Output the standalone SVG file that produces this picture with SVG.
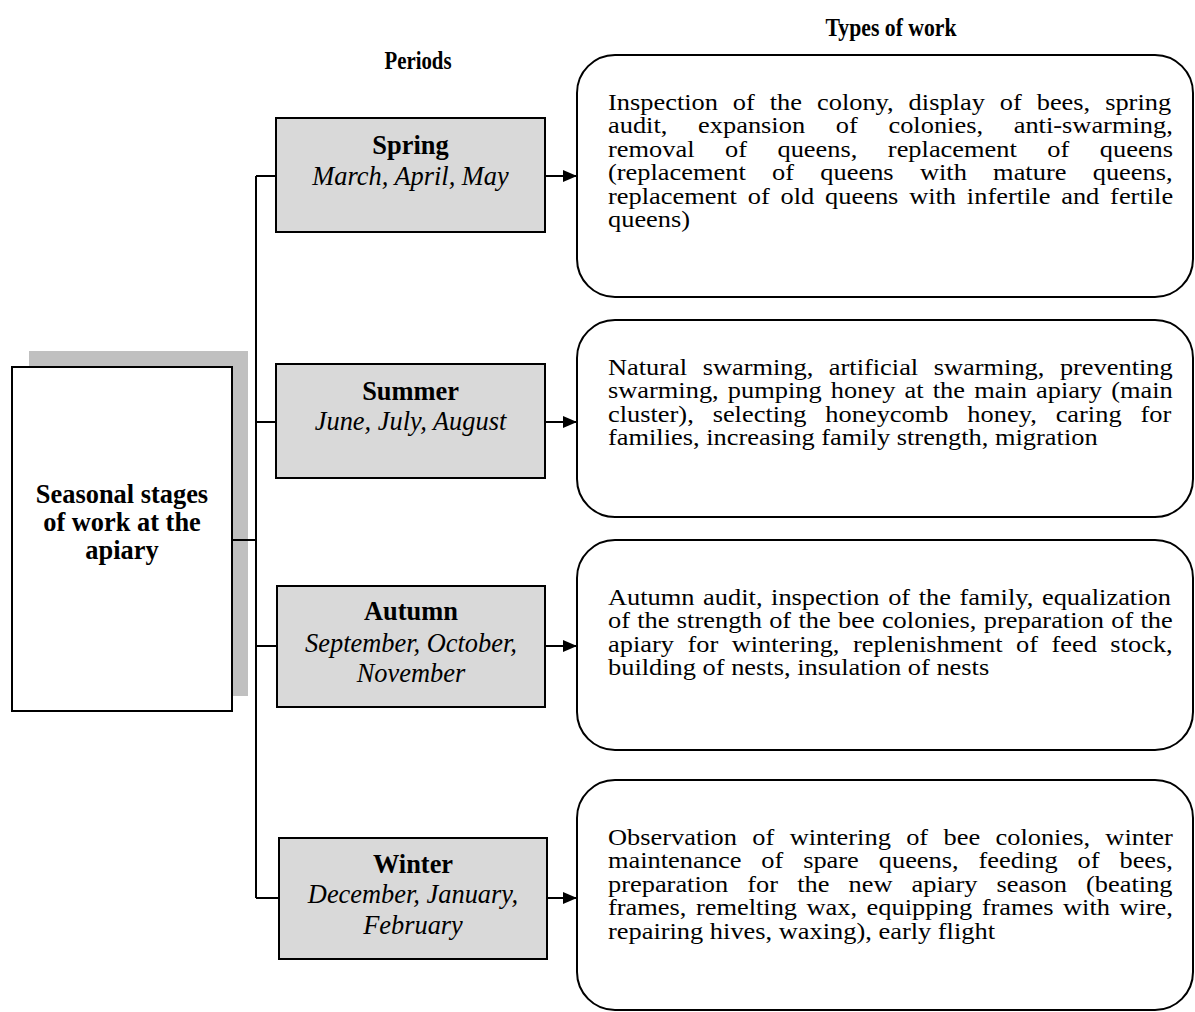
<svg xmlns="http://www.w3.org/2000/svg" width="1195" height="1012" viewBox="0 0 1195 1012">
<style>
text{font-family:"Liberation Serif","Times New Roman",serif;fill:#000}
.hdr{font-size:26px;font-weight:bold;text-anchor:middle}
.ttl{font-size:26.4px;font-weight:bold;text-anchor:middle}
.per{font-size:26.4px;font-style:italic;text-anchor:middle}
.body{font-size:23px}
.pbox{fill:#d9d9d9;stroke:#000;stroke-width:2}
.wbox{fill:#fff;stroke:#000;stroke-width:2}
.ln{fill:none;stroke:#000;stroke-width:2}
</style>
<defs>
<marker id="ah" viewBox="0 0 14 12" refX="14" refY="6" markerWidth="14" markerHeight="12" markerUnits="userSpaceOnUse" orient="auto">
<path d="M0,0 L14,6 L0,12 Z" fill="#000"/>
</marker>
</defs>

<text class="hdr" x="891" y="36" textLength="131" lengthAdjust="spacingAndGlyphs">Types of work</text>
<text class="hdr" x="418" y="69" textLength="67" lengthAdjust="spacingAndGlyphs">Periods</text>

<g id="main">
<rect x="29" y="351" width="219" height="345" fill="#c0c0c0"/>
<rect class="wbox" x="12" y="367" width="220" height="344"/>
<text class="ttl" x="122" y="503">Seasonal stages</text>
<text class="ttl" x="122" y="531">of work at the</text>
<text class="ttl" x="122" y="559">apiary</text>
</g>

<g id="connectors">
<path class="ln" d="M232,540 H256 M256,176 V898 M256,176 H276 M256,422 H276 M256,646 H277 M256,898 H279"/>
<path class="ln" d="M545,176 H577" marker-end="url(#ah)"/>
<path class="ln" d="M545,422 H577" marker-end="url(#ah)"/>
<path class="ln" d="M545,646 H577" marker-end="url(#ah)"/>
<path class="ln" d="M547,898 H577" marker-end="url(#ah)"/>
</g>

<g id="spring">
<rect class="pbox" x="276" y="118" width="269" height="114"/>
<text class="ttl" x="410.5" y="154">Spring</text>
<text class="per" x="410.5" y="185">March, April, May</text>
</g>
<g id="summer">
<rect class="pbox" x="276" y="364" width="269" height="114"/>
<text class="ttl" x="410.5" y="400">Summer</text>
<text class="per" x="410.5" y="430">June, July, August</text>
</g>
<g id="autumn">
<rect class="pbox" x="277" y="586" width="268" height="121"/>
<text class="ttl" x="411" y="620">Autumn</text>
<text class="per" x="411" y="652">September, October,</text>
<text class="per" x="411" y="682">November</text>
</g>
<g id="winter">
<rect class="pbox" x="279" y="838" width="268" height="121"/>
<text class="ttl" x="413" y="873">Winter</text>
<text class="per" x="413" y="903">December, January,</text>
<text class="per" x="413" y="934">February</text>
</g>

<g id="work-spring">
<rect class="wbox" x="577" y="55" width="616" height="242" rx="38" ry="38"/>
<g transform="translate(608,0) scale(1.148,1)">
<text class="body" x="0" y="110" style="word-spacing:7.26px">Inspection of the colony, display of bees, spring</text>
<text class="body" x="0" y="133.4" style="word-spacing:20.99px">audit, expansion of colonies, anti-swarming,</text>
<text class="body" x="0" y="156.8" style="word-spacing:20.82px">removal of queens, replacement of queens</text>
<text class="body" x="0" y="180.2" style="word-spacing:17.16px">(replacement of queens with mature queens,</text>
<text class="body" x="0" y="203.6" style="word-spacing:3.66px">replacement of old queens with infertile and fertile</text>
<text class="body" x="0" y="227">queens)</text>
</g>
</g>

<g id="work-summer">
<rect class="wbox" x="577" y="320" width="616" height="197" rx="38" ry="38"/>
<g transform="translate(608,0) scale(1.148,1)">
<text class="body" x="0" y="375" style="word-spacing:7.75px">Natural swarming, artificial swarming, preventing</text>
<text class="body" x="0" y="398.4" style="word-spacing:2.24px">swarming, pumping honey at the main apiary (main</text>
<text class="body" x="0" y="421.8" style="word-spacing:10.71px">cluster), selecting honeycomb honey, caring for</text>
<text class="body" x="0" y="445.2">families, increasing family strength, migration</text>
</g>
</g>

<g id="work-autumn">
<rect class="wbox" x="577" y="540" width="616" height="210" rx="38" ry="38"/>
<g transform="translate(608,0) scale(1.148,1)">
<text class="body" x="0" y="605" style="word-spacing:1.74px">Autumn audit, inspection of the family, equalization</text>
<text class="body" x="0" y="628.4" style="word-spacing:0.61px">of the strength of the bee colonies, preparation of the</text>
<text class="body" x="0" y="651.8" style="word-spacing:6.01px">apiary for wintering, replenishment of feed stock,</text>
<text class="body" x="0" y="675.2">building of nests, insulation of nests</text>
</g>
</g>

<g id="work-winter">
<rect class="wbox" x="577" y="780" width="616" height="230" rx="38" ry="38"/>
<g transform="translate(608,0) scale(1.148,1)">
<text class="body" x="0" y="845" style="word-spacing:7.62px">Observation of wintering of bee colonies, winter</text>
<text class="body" x="0" y="868.4" style="word-spacing:11.59px">maintenance of spare queens, feeding of bees,</text>
<text class="body" x="0" y="891.8" style="word-spacing:10.89px">preparation for the new apiary season (beating</text>
<text class="body" x="0" y="915.2" style="word-spacing:2.53px">frames, remelting wax, equipping frames with wire,</text>
<text class="body" x="0" y="938.6">repairing hives, waxing), early flight</text>
</g>
</g>
</svg>
